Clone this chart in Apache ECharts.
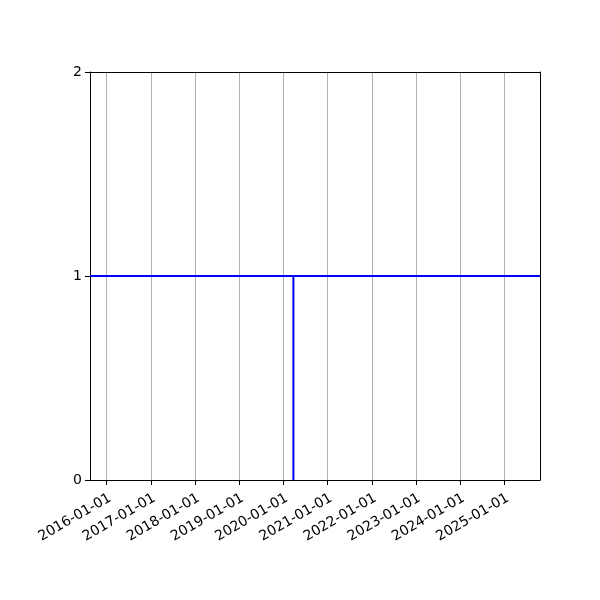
<!DOCTYPE html>
<html>
<head>
<meta charset="utf-8">
<script src="https://cdn.jsdelivr.net/npm/echarts@6/dist/echarts.min.js"></script>
<style>html,body{margin:0;padding:0;background:#fff}#c{width:600px;height:600px}</style>
</head>
<body>
<div id="c"></div>
<script>
const dates = ['2015-08-17', '2020-03-24', '2020-03-24', '2020-03-24', '2025-10-22'];
const values = [1, 1, 0, 1, 1];
const xMin = '2015-08-17';
const xMax = '2025-10-22';
const yTicks = [0, 1, 2];

const chart = echarts.init(document.getElementById('c'));
const DAY = 86400000;
const frameAxis = { axisLine: { show: true, onZero: false, lineStyle: { color: '#000', width: 1 } },
  axisTick: { show: false }, axisLabel: { show: false }, splitLine: { show: false } };
chart.setOption({
  animation: false,
  backgroundColor: '#fff',
  grid: { left: 90, right: 60, top: 72, bottom: 120, containLabel: false },
  xAxis: [{
    type: 'time',
    min: xMin, max: xMax,
    minInterval: 365 * DAY, maxInterval: 366 * DAY,
    axisLine: { show: true, onZero: false, lineStyle: { color: '#000', width: 1 } },
    axisTick: { show: true, inside: false, length: 5, lineStyle: { color: '#000' } },
    axisLabel: { rotate: 30, color: '#000', fontSize: 14, fontFamily: 'DejaVu Sans', margin: 11,
      verticalAlign: 'top', align: 'right',
      showMinLabel: false, showMaxLabel: false,
      formatter: '{yyyy}-{MM}-{dd}' },
    splitLine: { show: true, lineStyle: { color: '#b0b0b0', width: 1 } }
  }, Object.assign({ type: 'time', min: xMin, max: xMax, position: 'top' }, frameAxis)],
  yAxis: [{
    type: 'value', min: yTicks[0], max: yTicks[yTicks.length - 1], interval: 1,
    axisLine: { show: true, lineStyle: { color: '#000', width: 1 } },
    axisTick: { show: true, inside: false, length: 5, lineStyle: { color: '#000' } },
    axisLabel: { color: '#000', fontSize: 14, fontFamily: 'DejaVu Sans', margin: 8 },
    splitLine: { show: false }
  }, Object.assign({ type: 'value', min: yTicks[0], max: yTicks[yTicks.length - 1], position: 'right' }, frameAxis)],
  series: [{
    type: 'line',
    data: dates.map((d, i) => [d, values[i]]),
    showSymbol: false,
    lineStyle: { color: '#0000ff', width: 2 },
    itemStyle: { color: '#0000ff' }
  }]
});
</script>
</body>
</html>
